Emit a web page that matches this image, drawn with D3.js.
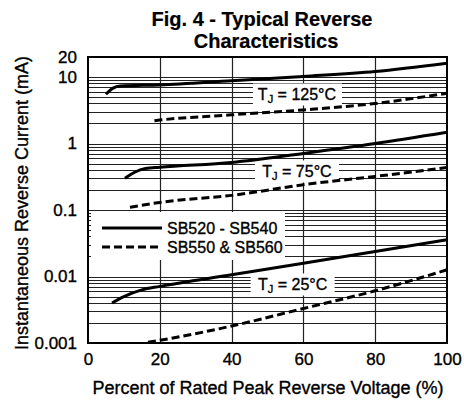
<!DOCTYPE html>
<html>
<head>
<meta charset="utf-8">
<script src="https://cdn.jsdelivr.net/npm/d3@7"></script>
<style>
  body { margin: 0; background: #fff; }
  svg text { font-family: "Liberation Sans", Arial, sans-serif; fill: #000; stroke: #000; stroke-width: 0.35px; }
</style>
</head>
<body>
<script>
// Data:
const xTicks = [0, 20, 40, 60, 80, 100];
const yTicks = [0.001, 0.01, 0.1, 1, 10, 20];

const x125s = [5, 7, 9, 20, 40, 60, 80, 100];
const y125s = [5.5, 6.8, 7.3, 7.6, 8.8, 10.2, 12.1, 16.1];
const x125d = [18.5, 20, 40, 60, 80, 100];
const y125d = [2.2, 2.25, 2.7, 3.2, 4.0, 5.7];
const x75s = [10.3, 13, 16, 20, 40, 60, 80, 100];
const y75s = [0.3, 0.37, 0.42, 0.44, 0.52, 0.71, 1.0, 1.48];
const x75d = [11.7, 20, 40, 60, 80, 100];
const y75d = [0.11, 0.13, 0.166, 0.24, 0.32, 0.435];
const x25s = [6.7, 10, 15, 20, 40, 60, 80, 100];
const y25s = [0.004, 0.005, 0.0063, 0.0071, 0.0106, 0.0158, 0.0238, 0.0356];
const x25d = [16.7, 20, 40, 60, 80, 100];
const y25d = [0.00103, 0.0011, 0.0018, 0.0033, 0.0061, 0.0126];

const tempLabels = ["125", "75", "25"];
const labelX = [58.2, 58.2, 57];
const labelY = [5.46, 0.38, 0.0076];

const legendNames = ["SB520 - SB540", "SB550 & SB560"];

// Variable setup:
const width = 464;
const height = 403;
const plotLeft = 88, plotRight = 447, plotTop = 57, plotBottom = 343;

const svg = d3.select("body").append("svg")
  .attr("width", width)
  .attr("height", height);

const xScale = d3.scaleLinear().domain([0, 100]).range([plotLeft, plotRight]);
const yScale = d3.scaleLog().domain([0.001, 20]).range([plotBottom, plotTop]);

// Title:
const titleLines = [["Fig. 4 - Typical Reverse", 262, 25.5], ["Characteristics", 266, 48]];
svg.append("g")
  .selectAll("text")
  .data(titleLines)
  .enter()
  .append("text")
  .attr("x", (d) => d[1])
  .attr("y", (d) => d[2])
  .attr("text-anchor", "middle")
  .style("font-weight", "bold")
  .style("font-size", "20px")
  .style("stroke-width", "0.2px")
  .text((d) => d[0]);

// Gridlines:
const minor = [];
for (let e = -3; e <= 0; e++) {
  for (let m = 1; m <= 9; m++) minor.push(m * Math.pow(10, e));
}
minor.push(10);

svg.append("g")
  .selectAll("line")
  .data(minor)
  .enter()
  .append("line")
  .attr("x1", plotLeft)
  .attr("x2", plotRight)
  .attr("y1", (d) => Math.round(yScale(d)) + 0.5)
  .attr("y2", (d) => Math.round(yScale(d)) + 0.5)
  .attr("stroke", "#222")
  .attr("stroke-width", 1);

svg.append("g")
  .selectAll("line")
  .data([20, 40, 60, 80])
  .enter()
  .append("line")
  .attr("x1", (d) => Math.round(xScale(d)) + 0.5)
  .attr("x2", (d) => Math.round(xScale(d)) + 0.5)
  .attr("y1", plotTop)
  .attr("y2", plotBottom)
  .attr("stroke", "#222")
  .attr("stroke-width", 1.2);

// Temperature label boxes:
const labels = svg.append("g")
  .selectAll("g")
  .data(tempLabels)
  .enter()
  .append("g")
  .attr("transform", (d, i) => `translate(${xScale(labelX[i])}, ${yScale(labelY[i])})`);

labels.append("rect")
  .attr("x", (d) => (d === "125" ? -44 : -42))
  .attr("y", -11)
  .attr("width", (d) => (d === "125" ? 89 : 84))
  .attr("height", 22)
  .attr("fill", "#fff");

const lt = labels.append("text")
  .attr("text-anchor", "middle")
  .attr("y", 6)
  .style("font-size", "16px");
lt.append("tspan").text("T");
lt.append("tspan").attr("dy", 3).style("font-size", "11px").text("J");
lt.append("tspan").attr("dy", -3).text((d) => ` = ${d}°C`);

// Legend box:
const legend = svg.append("g");
legend.append("rect")
  .attr("x", plotLeft + 3)
  .attr("y", 212)
  .attr("width", 194)
  .attr("height", 48)
  .attr("fill", "#fff");

legend.selectAll("line")
  .data(legendNames)
  .enter()
  .append("line")
  .attr("x1", 102)
  .attr("x2", 162)
  .attr("y1", (d, i) => 228 + i * 19)
  .attr("y2", (d, i) => 228 + i * 19)
  .attr("stroke", "#000")
  .attr("stroke-width", 3)
  .attr("stroke-dasharray", (d, i) => (i ? "8,4" : null));

legend.selectAll("text")
  .data(legendNames)
  .enter()
  .append("text")
  .attr("x", 167)
  .attr("y", (d, i) => 234 + i * 19)
  .style("font-size", "16px")
  .text((d) => d);

// Curves:
const series = [
  [x125s, y125s, false], [x125d, y125d, true],
  [x75s, y75s, false], [x75d, y75d, true],
  [x25s, y25s, false], [x25d, y25d, true]
];

const line = d3.line()
  .x((d) => xScale(d[0]))
  .y((d) => yScale(d[1]))
  .curve(d3.curveMonotoneX);

svg.append("g")
  .selectAll("path")
  .data(series)
  .enter()
  .append("path")
  .attr("d", (s) => line(s[0].map((v, i) => [v, s[1][i]])))
  .attr("fill", "none")
  .attr("stroke", "#000")
  .attr("stroke-width", 3)
  .attr("stroke-dasharray", (s) => (s[2] ? "8,4" : null));

// Border:
svg.append("rect")
  .attr("x", plotLeft)
  .attr("y", plotTop)
  .attr("width", plotRight - plotLeft)
  .attr("height", plotBottom - plotTop)
  .attr("fill", "none")
  .attr("stroke", "#000")
  .attr("stroke-width", 2);

// Axes:
const xAxis = d3.axisBottom(xScale).tickValues(xTicks).tickSize(0).tickPadding(10);
svg.append("g")
  .attr("transform", `translate(0, ${plotBottom})`)
  .call(xAxis)
  .call((g) => g.select(".domain").remove())
  .selectAll("text")
  .style("font-size", "17px")
  .attr("font-family", null);

const yAxis = d3.axisLeft(yScale).tickValues(yTicks).tickSize(0).tickPadding(11)
  .tickFormat((d) => String(d));
svg.append("g")
  .attr("transform", `translate(${plotLeft}, 0)`)
  .call(yAxis)
  .call((g) => g.select(".domain").remove())
  .selectAll("text")
  .style("font-size", "17px")
  .attr("font-family", null);

// Axis titles:
svg.append("text")
  .attr("x", 268)
  .attr("y", 394)
  .attr("text-anchor", "middle")
  .style("font-size", "18px")
  .text("Percent of Rated Peak Reverse Voltage (%)");

svg.append("text")
  .attr("transform", "translate(28, 203) rotate(-90)")
  .attr("text-anchor", "middle")
  .style("font-size", "18px")
  .text("Instantaneous Reverse Current (mA)");
</script>
</body>
</html>
